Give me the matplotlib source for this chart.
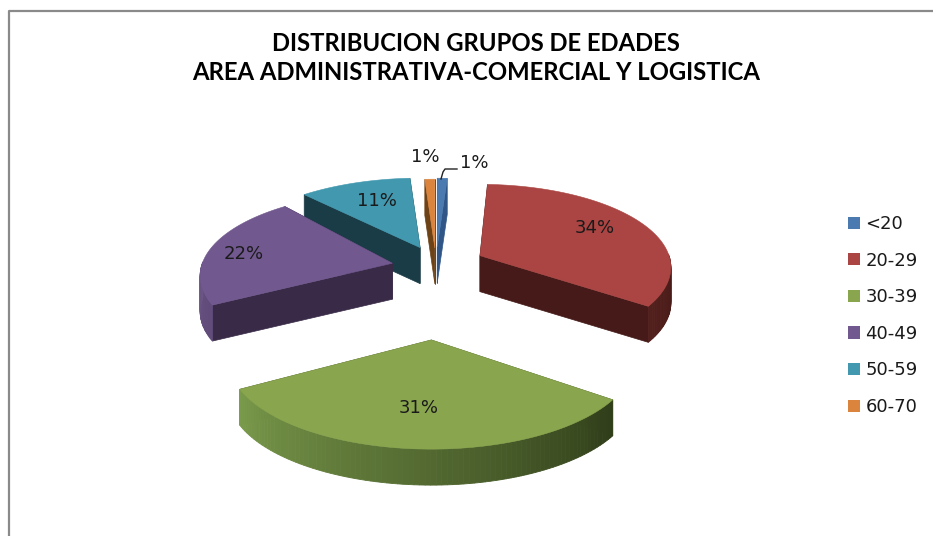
import numpy as np
import matplotlib
matplotlib.use("Agg")
import matplotlib.pyplot as plt
from matplotlib.patches import Patch, Polygon
from matplotlib.colors import to_rgb

# data
categories = ['<20', '20-29', '30-39', '40-49', '50-59', '60-70']
values = [1, 34, 31, 22, 11, 1]
pct_labels = ['1%', '34%', '31%', '22%', '11%', '1%']
title = 'DISTRIBUCION GRUPOS DE EDADES\nAREA ADMINISTRATIVA-COMERCIAL Y LOGISTICA'

# style
colors = ['#4a7ab0', '#aa4543', '#89a54e', '#71588f', '#4198af', '#db843d']
cut_colors = ['#2f5687', '#451a18', '#4f6130', '#392a47', '#1a3c47', '#6d4217']
arc_left = ['#3a6494', '#521f1c', '#7a9a4b', '#6a5585', '#2f6f82', '#a8652c']
arc_right = ['#3a6494', '#451a18', '#2f3d19', '#5f4a7a', '#2f6f82', '#a8652c']
explode = [0.19, 0.243, 0.74, 0.22, 0.2, 0.18]
scale = [0.96, 0.945, 0.99, 0.95, 0.97, 0.96]
rot = [0, -1, 1.5, 4, 0, 0]
persp = [0.2, 0.14, 0.22, 0.15, 0.2, 0.2]
draw_order = [4, 5, 0, 3, 1, 2]
label_xy = [(474, 163), (595, 228), (419, 408), (244, 254), (377, 201), (425, 157)]

CX, CY = 436, 266
R = 200
TILT = 0.43
DEPTH = 36

plt.rcParams['font.family'] = ['Lato', 'DejaVu Sans']

fig = plt.figure(figsize=(9.33, 5.36), dpi=100)
ax = fig.add_axes([0, 0, 1, 1])
ax.set_xlim(0, 933)
ax.set_ylim(536, 0)
ax.axis('off')

# chart frame, runs off the picture on the right and bottom
ax.plot([9, 9, 933], [536, 11, 11], color='#8a8a8a', lw=1.6)


def project(theta, p, r=1.0):
    # theta in radians clockwise from the top, front of the pie is y > 0
    x = r * np.sin(theta)
    y = -r * np.cos(theta)
    s = 1 / (1 - p * y)
    return R * x * s, R * TILT * y * s


def mix(c1, c2, t):
    a, b = np.array(to_rgb(c1)), np.array(to_rgb(c2))
    return tuple(a + (b - a) * t)


edges = np.radians(np.cumsum([0] + values) * 3.6)

for i in draw_order:
    t0, t1 = edges[i], edges[i + 1]
    mid = (t0 + t1) / 2
    ax0 = CX + R * explode[i] * np.sin(mid)
    ay0 = CY - R * 0.5 * explode[i] * np.cos(mid)

    th = np.linspace(t0, t1, 90) + np.radians(rot[i])
    px, py = project(th, persp[i])
    px = ax0 + px * scale[i]
    py = ay0 + py * scale[i]

    # radial cuts
    for k in (0, -1):
        cut = [(ax0, ay0), (px[k], py[k]), (px[k], py[k] + DEPTH), (ax0, ay0 + DEPTH)]
        ax.add_patch(Polygon(cut, closed=True, fc=cut_colors[i], ec=cut_colors[i], lw=0.5))

    # outer wall, only the part turned to the viewer
    front = np.cos(th) < 0.02
    ids = np.where(front)[0]
    for n, j in enumerate(ids[:-1]):
        c = mix(arc_right[i], arc_left[i], n / max(len(ids) - 2, 1))
        quad = [(px[j], py[j]), (px[j + 1], py[j + 1]),
                (px[j + 1], py[j + 1] + DEPTH), (px[j], py[j] + DEPTH)]
        ax.add_patch(Polygon(quad, closed=True, fc=c, ec=c, lw=0.6))

    # top face
    top = [(ax0, ay0)] + list(zip(px, py))
    ax.add_patch(Polygon(top, closed=True, fc=colors[i], ec=colors[i], lw=0.4, zorder=2 + 0.1 * i))

for txt, (x, y) in zip(pct_labels, label_xy):
    ax.text(x, y, txt, ha='center', va='center', fontsize=13, color='#1a1a1a',
            family='DejaVu Sans', zorder=5)

# leader of the <20 label
ax.plot([441, 443, 445, 457], [179, 172, 169, 169], color='#222222', lw=1.0, zorder=5)

ax.text(476, 58, title, ha='center', va='center', fontsize=17.2, fontweight='bold',
        color='black', linespacing=1.28, zorder=5)

handles = [Patch(fc=c, ec='none') for c in colors]
ax.legend(handles, categories, loc='upper left', bbox_to_anchor=(848 / 933, 1 - 215 / 536),
          frameon=False, handlelength=0.67, handleheight=0.67, handletextpad=0.3,
          labelspacing=1.03, borderpad=0, borderaxespad=0, labelcolor='#1a1a1a',
          prop={'family': 'DejaVu Sans', 'size': 13})

fig.savefig('out.png', dpi=100)
